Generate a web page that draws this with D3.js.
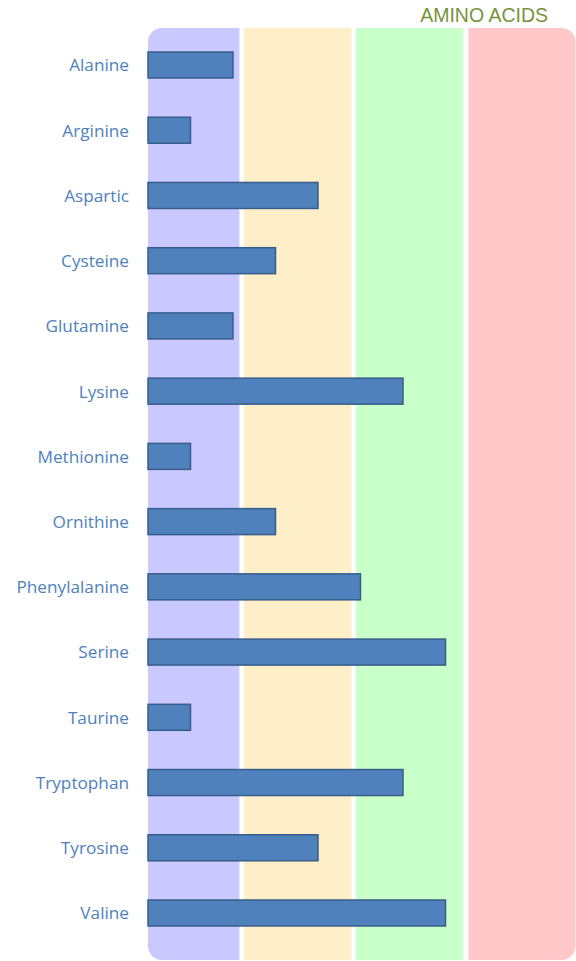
<!DOCTYPE html>
<html>
<head>
<meta charset="utf-8">
<script src="https://cdn.jsdelivr.net/npm/d3@7"></script>
<style>
  body { margin: 0; background: #fff; }
  svg { display: block; }
</style>
</head>
<body>
<script>
var width = 576, height = 961;

// amino acids and their bar values (units of 1..7)
var acids = ["Alanine", "Arginine", "Aspartic", "Cysteine", "Glutamine", "Lysine", "Methionine",
             "Ornithine", "Phenylalanine", "Serine", "Taurine", "Tryptophan", "Tyrosine", "Valine"];
var values = [2, 1, 4, 3, 2, 6, 1, 3, 5, 7, 1, 6, 4, 7];

// coloured background zones, in value units
var zoneStart = [0, 2.26, 4.89, 7.54];
var zoneEnd = [2.15, 4.79, 7.42, 10.06];
var zoneColors = ["#c9c9ff", "#ffefc9", "#c9ffc9", "#ffc9c9"];

var title = "AMINO ACIDS";

var data = acids.map(function(d, i) { return { name: d, value: values[i] }; });

var svg = d3.select("body")
    .append("svg")
    .attr("width", width)
    .attr("height", height);

var x = d3.scaleLinear()
    .domain([0, 10])
    .range([148, 573]);

var y = d3.scalePoint()
    .domain(acids)
    .range([65, 913]);

var barHeight = 26;
var zoneTop = 28, zoneBottom = 960, r = 14;

// rounded only on the outer corners of first and last zone
function zonePath(i) {
    var x0 = x(zoneStart[i]), x1 = x(zoneEnd[i]);
    var p = d3.path();
    var left = i == 0, right = i == zoneStart.length - 1;
    p.moveTo(x0 + (left ? r : 0), zoneTop);
    if (right) {
        p.lineTo(x1 - r, zoneTop);
        p.arcTo(x1, zoneTop, x1, zoneTop + r, r);
        p.lineTo(x1, zoneBottom - r);
        p.arcTo(x1, zoneBottom, x1 - r, zoneBottom, r);
    } else {
        p.lineTo(x1, zoneTop);
        p.lineTo(x1, zoneBottom);
    }
    if (left) {
        p.lineTo(x0 + r, zoneBottom);
        p.arcTo(x0, zoneBottom, x0, zoneBottom - r, r);
        p.lineTo(x0, zoneTop + r);
        p.arcTo(x0, zoneTop, x0 + r, zoneTop, r);
    } else {
        p.lineTo(x0, zoneBottom);
    }
    p.closePath();
    return p.toString();
}

svg.append("g")
    .attr("class", "zones")
    .selectAll("path")
    .data(zoneStart)
    .enter()
    .append("path")
    .attr("d", function(d, i) { return zonePath(i); })
    .attr("fill", function(d, i) { return zoneColors[i]; });

svg.append("text")
    .attr("x", 548)
    .attr("y", 22)
    .attr("text-anchor", "end")
    .attr("font-family", "Liberation Sans, Arial, sans-serif")
    .attr("font-size", "19.5px")
    .attr("fill", "#77933c")
    .text(title);

svg.append("g")
    .attr("class", "bars")
    .selectAll("rect")
    .data(data)
    .enter()
    .append("rect")
    .attr("x", x(0))
    .attr("y", function(d) { return y(d.name) - barHeight / 2; })
    .attr("width", function(d) { return x(d.value) - x(0); })
    .attr("height", barHeight)
    .attr("fill", "#4f81bd")
    .attr("stroke", "#385d8a")
    .attr("stroke-width", 1.5);

svg.append("g")
    .attr("class", "labels")
    .selectAll("text")
    .data(data)
    .enter()
    .append("text")
    .attr("x", 129)
    .attr("y", function(d) { return y(d.name); })
    .attr("dy", "0.37em")
    .attr("text-anchor", "end")
    .attr("font-family", "Open Sans, sans-serif")
    .attr("font-size", "17.2px")
    .attr("fill", "#4f81bd")
    .text(function(d) { return d.name; });
</script>
</body>
</html>
